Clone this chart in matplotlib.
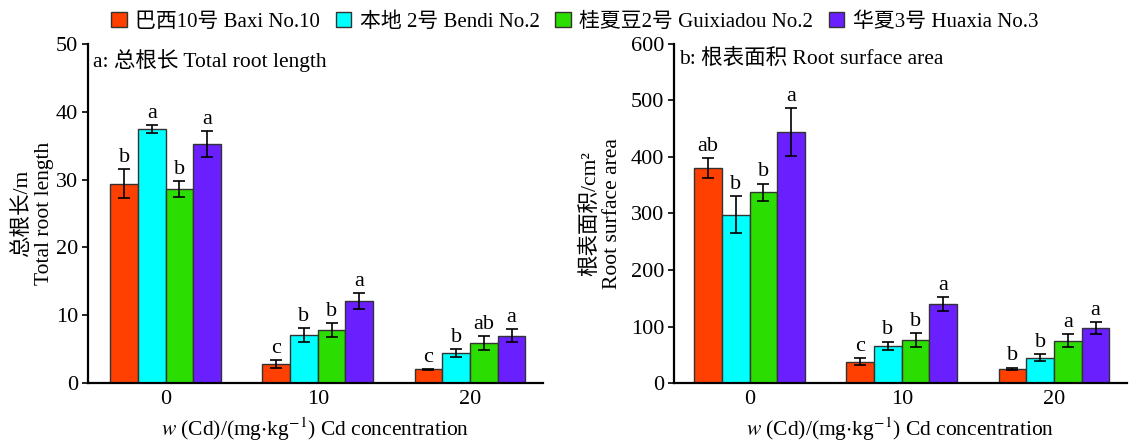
import numpy as np
import matplotlib.pyplot as plt

plt.rcParams['font.family'] = ['Liberation Serif', 'Noto Sans CJK SC']
plt.rcParams['mathtext.fontset'] = 'stix'
plt.rcParams['font.size'] = 15.5

# Cd concentration groups
groups = ['0', '10', '20']
cultivars = ['巴西10号 Baxi No.10', '本地 2号 Bendi No.2', '桂夏豆2号 Guixiadou No.2', '华夏3号 Huaxia No.3']
colors = ['#FF4000', '#00FFFF', '#2BDD00', '#6A1FFF']

# total root length (m)
length_mean = [[29.4, 2.8, 2.0], [37.4, 7.1, 4.4], [28.6, 7.8, 5.9], [35.2, 12.1, 7.0]]
length_err = [[2.1, 0.6, 0.1], [0.6, 1.0, 0.6], [1.2, 1.0, 1.0], [1.9, 1.2, 0.9]]
length_sig = [['b', 'c', 'c'], ['a', 'b', 'b'], ['b', 'b', 'ab'], ['a', 'a', 'a']]

# root surface area (cm2)
area_mean = [[380, 38, 25], [298, 66, 45], [338, 76, 75], [444, 140, 97]]
area_err = [[18, 6, 2], [33, 7, 6], [15, 12, 12], [43, 12, 11]]
area_sig = [['ab', 'c', 'b'], ['b', 'b', 'b'], ['b', 'b', 'a'], ['a', 'a', 'a']]

fig = plt.figure(figsize=(11.38, 4.42), dpi=100)
ax1 = fig.add_axes([88 / 1138, 59 / 442, 455 / 1138, 339 / 442])
ax2 = fig.add_axes([674 / 1138, 59 / 442, 453 / 1138, 339 / 442])

x = np.arange(len(groups))
w = 0.182


def draw(ax, means, errs, sigs, ymax, step, title, ylabel, xlim, pad, ylab_x):
    for i in range(4):
        pos = x + (i - 1.5) * w
        ax.bar(pos, means[i], w, color=colors[i], edgecolor='#333333', linewidth=1.0,
               label=cultivars[i])
        ax.errorbar(pos, means[i], yerr=errs[i], fmt='none', ecolor='black', elinewidth=1.2,
                    capsize=4, capthick=1.2)
        for p, m, e, s in zip(pos, means[i], errs[i], sigs[i]):
            ax.text(p, m + e + pad, s, ha='center', va='bottom', fontsize=16)
    ax.set_ylim(0, ymax)
    ax.set_yticks(np.arange(0, ymax + 1, step))
    ax.set_xlim(*xlim)
    ax.set_xticks(x)
    ax.set_xticklabels(groups)
    ax.tick_params(axis='x', length=0, pad=5, labelsize=16)
    ax.tick_params(axis='y', direction='out', length=4, width=1.2, labelsize=16, pad=3)
    for s in ['top', 'right']:
        ax.spines[s].set_visible(False)
    for s in ['left', 'bottom']:
        ax.spines[s].set_linewidth(1.6)
    ax.text(0.012, 0.985, title, transform=ax.transAxes, ha='left', va='top', fontsize=15.5)
    ax.set_ylabel(ylabel, fontsize=15.5, linespacing=1.2, va='center')
    ax.yaxis.set_label_coords(ylab_x, 0.5)
    ax.set_xlabel(r'$w$ (Cd)/(mg$\cdot$kg$^{-1}$) Cd concentration', fontsize=15.5, va='top')
    ax.xaxis.set_label_coords(0.5, -0.095)


draw(ax1, length_mean, length_err, length_sig, 50, 10, 'a: 总根长 Total root length',
     '总根长/m\nTotal root length', (-0.51, 2.48), 0.3, -0.12)
draw(ax2, area_mean, area_err, area_sig, 600, 100, 'b: 根表面积 Root surface area',
     '根表面积/cm²\nRoot surface area', (-0.497, 2.48), 4, -0.16)

handles, labels = ax1.get_legend_handles_labels()
fig.legend(handles, labels, loc='upper center', bbox_to_anchor=(0.505, 1.015), ncol=4, frameon=False,
           fontsize=15, handlelength=0.75, handleheight=0.75, handletextpad=0.4, columnspacing=0.75)

fig.savefig('out.png', dpi=100)
